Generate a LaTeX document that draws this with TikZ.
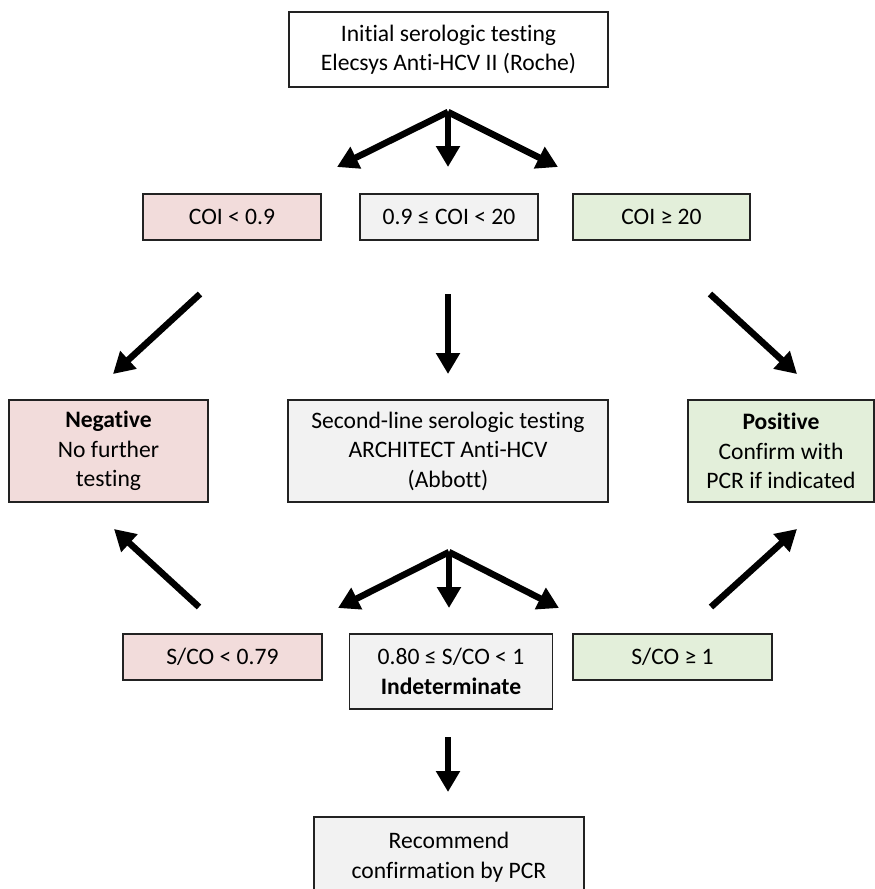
\documentclass[tikz,border=0pt]{standalone}
\usepackage{fontspec}
\setmainfont{Carlito}[RawFeature=-liga]
\usetikzlibrary{arrows.meta}
\definecolor{pinkbg}{HTML}{F2DCDB}
\definecolor{graybg}{HTML}{F2F2F2}
\definecolor{greenbg}{HTML}{E3EFDA}
\definecolor{edge}{HTML}{222222}
\tikzset{
  box/.style={draw=edge, line width=1.4pt, rectangle, inner sep=0pt, align=center,
    font=\fontsize{23.6}{29.5}\selectfont},
  pinkbox/.style={box, fill=pinkbg},
  graybox/.style={box, fill=graybg},
  greenbox/.style={box, fill=greenbg},
  whitebox/.style={box, fill=white},
  bigarrow/.style={line width=6.5pt, -{Triangle[width=23pt,length=21pt]}},
}
\begin{document}
\begin{tikzpicture}[x=1pt,y=-1pt]
\useasboundingbox (0,0) rectangle (875,889);
\fill[white] (0,0) rectangle (875,889);

% Nodes
\node[whitebox, minimum width=319pt, minimum height=75pt] (top) at (448.5,49.5)
  {Initial serologic testing\\Elecsys Anti-HCV II (Roche)};

\node[pinkbox, minimum width=178pt, minimum height=46pt] (c1) at (232,217) {COI < 0.9};
\node[graybox, minimum width=178pt, minimum height=46pt] (c2) at (449,217) {0.9 ≤ COI < 20};
\node[greenbox, minimum width=177pt, minimum height=46pt] (c3) at (661.5,217) {COI ≥ 20};

\node[pinkbox, minimum width=199pt, minimum height=102pt] (neg) at (108.5,451)
  {\textbf{Negative}\\No further\\testing};
\node[graybox, minimum width=320pt, minimum height=102pt] (sec) at (448,451)
  {Second-line serologic testing\\ARCHITECT Anti-HCV\\(Abbott)};
\node[greenbox, minimum width=186pt, minimum height=102pt] (pos) at (781,451)
  {\textbf{Positive}\\Confirm with\\PCR if indicated};

\node[pinkbox, minimum width=199pt, minimum height=46pt] (s1) at (222.5,657) {S/CO < 0.79};
\node[graybox, minimum width=203pt, minimum height=75pt] (s2) at (451,671.5)
  {0.80 ≤ S/CO < 1\\\textbf{Indeterminate}};
\node[greenbox, minimum width=199pt, minimum height=46pt] (s3) at (672.5,657) {S/CO ≥ 1};

\node[graybox, minimum width=270pt, minimum height=80pt] (rec) at (449,857)
  {Recommend\\confirmation by PCR};

% Arrow anchor coordinates
\coordinate (ap1) at (448,112);
\coordinate (t1l) at (337,167);
\coordinate (t1m) at (448,167);
\coordinate (t1r) at (558,167);

\coordinate (a2ls) at (200,294);
\coordinate (a2lt) at (113,374);
\coordinate (a2ms) at (448,294);
\coordinate (a2mt) at (448,374);
\coordinate (a2rs) at (710,294);
\coordinate (a2rt) at (797,374);

\coordinate (ap2) at (449,552);
\coordinate (t2l) at (338,608);
\coordinate (t2m) at (449,608);
\coordinate (t2r) at (559,608);

\coordinate (a4ls) at (199,607);
\coordinate (a4lt) at (114,529);
\coordinate (a4rs) at (711,607);
\coordinate (a4rt) at (797,529);

\coordinate (a5s) at (448,737);
\coordinate (a5t) at (448,792);

% Arrows
\draw[bigarrow] (ap1) -- (t1l);
\draw[bigarrow] (ap1) -- (t1m);
\draw[bigarrow] (ap1) -- (t1r);

\draw[bigarrow] (a2ls) -- (a2lt);
\draw[bigarrow] (a2ms) -- (a2mt);
\draw[bigarrow] (a2rs) -- (a2rt);

\draw[bigarrow] (ap2) -- (t2l);
\draw[bigarrow] (ap2) -- (t2m);
\draw[bigarrow] (ap2) -- (t2r);

\draw[bigarrow] (a4ls) -- (a4lt);
\draw[bigarrow] (a4rs) -- (a4rt);

\draw[bigarrow] (a5s) -- (a5t);
\end{tikzpicture}
\end{document}
